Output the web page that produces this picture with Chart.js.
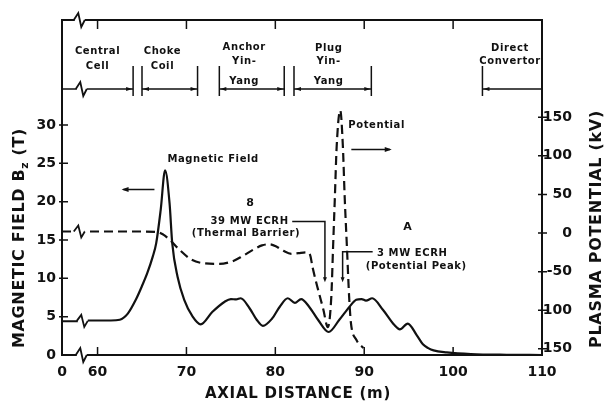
<!DOCTYPE html>
<html>
<head>
<meta charset="utf-8">
<script src="https://cdn.jsdelivr.net/npm/chart.js@4.4.1/dist/chart.umd.min.js"></script>
<style>html,body{margin:0;padding:0;background:#fff}</style>
</head>
<body>
<canvas id="chart" width="604" height="402"></canvas>
<script>
// Magnetic field along the axis (solid line, left axis)
const fieldZ = [56, 57.6, 58.5, 61.5, 62.5, 63.4, 64.3, 65.0, 65.6, 66.2, 66.6, 67.1, 67.6, 68.1, 68.4, 69.0, 69.75, 70.7, 71.6, 72.9,
    74.3, 75.0, 75.6, 76.1, 77.1, 77.9, 78.6, 79.6, 80.5, 81.4, 82.2, 82.9, 83.8, 84.8, 86.0, 87.2, 88.35, 89.1, 89.7, 90.2,
    90.9, 92.1, 93.4, 94.0, 94.9, 95.9, 96.6, 97.2, 97.8, 99.3, 102, 106, 110];
const fieldB = [4.4, 4.4, 4.5, 4.5, 4.6, 5.4, 7.2, 9.0, 10.7, 12.8, 14.6, 18.9, 24.1, 19.8, 14.6, 10.2, 7.2, 5.0, 4.0, 5.6,
    6.95, 7.3, 7.25, 7.4, 6.1, 4.6, 3.8, 4.7, 6.3, 7.4, 6.8, 7.3, 6.3, 4.6, 3.0, 4.6, 6.3, 7.2, 7.3, 7.1,
    7.4, 5.9, 3.9, 3.35, 4.1, 2.6, 1.4, 0.9, 0.6, 0.35, 0.13, 0.03, 0];

// Plasma potential (dashed line, right axis)
const potZ = [56, 60, 64, 66.7, 67.4, 68.1, 69.2, 70.5, 71.8, 73.7, 75.2, 76.3, 77.6, 78.5, 79.3, 80.2, 80.9, 81.8, 82.6,
    83.5, 83.9, 84.2, 84.8, 85.4, 85.9, 86.3, 86.5, 86.7, 86.9, 87.3, 87.6, 87.8, 88.05, 88.3, 88.5, 89.1, 89.9];
const potKV = [2, 2, 2, 1.5, -2, -8.5, -21.5, -34, -39, -40, -36.5, -30, -21, -16, -14.5, -18, -23, -27, -26,
    -25, -28, -45, -73, -99, -122, -82, -17, 47, 112, 159, 112, 47, -17, -82, -116, -138, -149];

const xTicks = [56, 60, 70, 80, 90, 100, 110];
const xTickLabels = ['0', '60', '70', '80', '90', '100', '110'];
const fieldTicks = [0, 5, 10, 15, 20, 25, 30];
const potTicks = [-150, -100, -50, 0, 50, 100, 150];

// machine sections along the axis (m)
const sections = [['Central', 'Cell'], ['Choke', 'Coil'], ['Anchor', 'Yin-', 'Yang'], ['Plug', 'Yin-', 'Yang'], ['Direct', 'Convertor']];
const sectionStart = [56, 65, 73.7, 82.1, 103.3];
const sectionEnd = [64, 71.25, 81, 90.8, 110];

const ink = '#111';
const FONT = "'DejaVu Sans', sans-serif";

function spacedText(ctx, parts, cx, cy, rot, width) {
    // parts: [text, size, dy]; letter spacing chosen so the whole string spans `width`
    let w0 = 0, n = 0;
    parts.forEach(p => {
        ctx.font = 'bold ' + p[1] + 'px ' + FONT;
        ctx.letterSpacing = '0px';
        w0 += ctx.measureText(p[0]).width;
        n += p[0].length;
    });
    const ls = (width - w0) / n;
    ctx.save();
    ctx.translate(cx, cy);
    ctx.rotate(rot);
    ctx.textAlign = 'left';
    ctx.textBaseline = 'middle';
    let x = -width / 2;
    parts.forEach(p => {
        ctx.font = 'bold ' + p[1] + 'px ' + FONT;
        ctx.letterSpacing = ls + 'px';
        ctx.fillText(p[0], x, p[2]);
        x += ctx.measureText(p[0]).width;
    });
    ctx.restore();
}

function arrowHead(ctx, x, y, dx, dy, len, half) {
    const px = -dy, py = dx;
    ctx.beginPath();
    ctx.moveTo(x, y);
    ctx.lineTo(x - dx * len + px * half, y - dy * len + py * half);
    ctx.lineTo(x - dx * len - px * half, y - dy * len - py * half);
    ctx.closePath();
    ctx.fill();
}

function zig(ctx, x, y, h) {
    ctx.fillStyle = '#fff';
    ctx.fillRect(x - 5, y - 2, 10, 4);
    ctx.fillStyle = ink;
    ctx.beginPath();
    ctx.moveTo(x - 6, y);
    ctx.lineTo(x - 1.5, y - h);
    ctx.lineTo(x + 1.5, y + h);
    ctx.lineTo(x + 5, y);
    ctx.stroke();
}

const decorations = {
    id: 'decorations',
    afterDraw(chart) {
        const ctx = chart.ctx, a = chart.chartArea;
        const xs = chart.scales.x, yb = chart.scales.y, yp = chart.scales.y2;
        const X = v => xs.getPixelForValue(v);
        const YB = v => yb.getPixelForValue(v);
        ctx.save();
        ctx.strokeStyle = ink;
        ctx.fillStyle = ink;
        ctx.lineCap = 'butt';

        // frame
        ctx.lineWidth = 2;
        ctx.strokeRect(a.left, a.top, a.right - a.left, a.bottom - a.top);

        // tick marks
        ctx.lineWidth = 1.5;
        ctx.beginPath();
        xTicks.slice(1, -1).forEach(v => {
            const x = X(v);
            ctx.moveTo(x, a.bottom); ctx.lineTo(x, a.bottom - 8);
            ctx.moveTo(x, a.top); ctx.lineTo(x, a.top + 9);
        });
        fieldTicks.slice(1).forEach(v => {
            const y = YB(v);
            ctx.moveTo(a.left - 3, y); ctx.lineTo(a.left + 6, y);
        });
        potTicks.forEach(v => {
            const y = yp.getPixelForValue(v);
            ctx.moveTo(a.right - 4, y); ctx.lineTo(a.right + 5, y);
        });
        ctx.stroke();

        // section brackets
        const by = a.top + 69;
        ctx.lineWidth = 1.5;
        sections.forEach((lines, i) => {
            const x1 = X(sectionStart[i]), x2 = X(sectionEnd[i]);
            ctx.beginPath();
            ctx.moveTo(x1, by); ctx.lineTo(x2, by);
            if (sectionStart[i] > xs.min) { ctx.moveTo(x1, by - 23); ctx.lineTo(x1, by + 7); }
            if (sectionEnd[i] < xs.max) { ctx.moveTo(x2, by - 23); ctx.lineTo(x2, by + 7); }
            ctx.stroke();
            if (sectionStart[i] > xs.min) arrowHead(ctx, x1 + 1, by, -1, 0, 6, 2);
            if (sectionEnd[i] < xs.max) arrowHead(ctx, x2 - 1, by, 1, 0, 6, 2);
        });
        const labelAt = [60.0, 67.3, 76.5, 86.0, 106.4];
        const rows = [[a.top + 31, a.top + 46], [a.top + 31, a.top + 46], [a.top + 27, a.top + 41, a.top + 61],
            [a.top + 28, a.top + 41, a.top + 61], [a.top + 28, a.top + 41]];
        ctx.font = 'bold 10px ' + FONT;
        ctx.letterSpacing = '0.6px';
        ctx.textAlign = 'center';
        ctx.textBaseline = 'middle';
        sections.forEach((lines, i) => {
            lines.forEach((t, j) => ctx.fillText(t, X(labelAt[i]), rows[i][j]));
        });

        // axis breaks
        ctx.lineWidth = 1.8;
        const xb = X(58);
        zig(ctx, xb, a.top, 7);
        zig(ctx, xb + 2, by, 7);
        zig(ctx, xb, yp.getPixelForValue(2), 6);
        zig(ctx, xb + 3, YB(4.45), 6);
        zig(ctx, xb + 2, a.bottom, 7);

        // annotations
        ctx.font = 'bold 10px ' + FONT;
        ctx.letterSpacing = '0.6px';
        ctx.fillText('Magnetic Field', X(73.0), YB(25.55));
        ctx.fillText('39 MW ECRH', X(77.1), YB(17.4));
        ctx.fillText('(Thermal Barrier)', X(76.7), YB(15.9));
        ctx.fillText('Potential', X(91.4), YB(30.0));
        ctx.fillText('3 MW ECRH', X(95.4), YB(13.2));
        ctx.fillText('(Potential Peak)', X(95.85), YB(11.5));
        ctx.font = 'bold 11px ' + FONT;
        ctx.fillText('8', X(77.2), YB(19.8));
        ctx.fillText('A', X(94.9), YB(16.7));

        ctx.lineWidth = 1.5;
        ctx.beginPath();
        ctx.moveTo(X(66.4), YB(21.6)); ctx.lineTo(X(62.9), YB(21.6));
        ctx.moveTo(X(88.55), YB(26.8)); ctx.lineTo(X(92.9), YB(26.8));
        ctx.moveTo(X(81.9), YB(17.4)); ctx.lineTo(X(85.58), YB(17.4)); ctx.lineTo(X(85.58), YB(9.9));
        ctx.moveTo(X(90.95), YB(13.47)); ctx.lineTo(X(87.57), YB(13.47)); ctx.lineTo(X(87.57), YB(9.9));
        ctx.stroke();
        arrowHead(ctx, X(62.7), YB(21.6), -1, 0, 7, 2.5);
        arrowHead(ctx, X(93.1), YB(26.8), 1, 0, 7, 2.5);
        arrowHead(ctx, X(85.58), YB(9.5), 0, 1, 5, 2);
        arrowHead(ctx, X(87.57), YB(9.5), 0, 1, 5, 2);

        // axis titles
        ctx.fillStyle = ink;
        spacedText(ctx, [['MAGNETIC FIELD B', 16, 0], ['z', 11, 5], [' (T)', 16, 0]], 20, 238, -Math.PI / 2, 220);
        spacedText(ctx, [['PLASMA POTENTIAL (kV)', 16, 0]], 597, 229, -Math.PI / 2, 238);
        spacedText(ctx, [['AXIAL DISTANCE (m)', 15, 0]], 298, 394, 0, 186);
        ctx.restore();
    }
};

const tickFont = { family: FONT, size: 14, weight: 'bold' };

new Chart(document.getElementById('chart'), {
    type: 'line',
    data: {
        datasets: [{
            label: 'Magnetic Field',
            data: fieldZ.map((z, i) => ({ x: z, y: fieldB[i] })),
            yAxisID: 'y',
            borderColor: ink,
            borderWidth: 2.2,
            pointRadius: 0,
            cubicInterpolationMode: 'monotone'
        }, {
            label: 'Potential',
            data: potZ.map((z, i) => ({ x: z, y: potKV[i] })),
            yAxisID: 'y2',
            borderColor: ink,
            borderWidth: 2.2,
            borderDash: [9, 5],
            pointRadius: 0,
            cubicInterpolationMode: 'monotone'
        }]
    },
    options: {
        responsive: false,
        animation: false,
        devicePixelRatio: 1,
        layout: { padding: { top: 20, right: 32, left: 0, bottom: 0 } },
        plugins: { legend: { display: false }, tooltip: { enabled: false } },
        scales: {
            x: {
                type: 'linear',
                min: 56,
                max: 110,
                afterBuildTicks: s => { s.ticks = xTicks.map(v => ({ value: v })); },
                afterFit: s => { s.height = 47; },
                grid: { display: false, drawTicks: false },
                border: { display: false },
                ticks: {
                    autoSkip: false,
                    maxRotation: 0,
                    padding: 9,
                    color: ink,
                    font: tickFont,
                    callback: (v, i) => xTickLabels[i]
                }
            },
            y: {
                position: 'left',
                min: 0,
                max: 43.7,
                afterBuildTicks: s => { s.ticks = fieldTicks.map(v => ({ value: v })); },
                afterFit: s => { s.width = 62; },
                grid: { display: false, drawTicks: false },
                border: { display: false },
                ticks: { padding: 6, color: ink, font: tickFont }
            },
            y2: {
                position: 'right',
                min: -158,
                max: 276,
                afterBuildTicks: s => { s.ticks = potTicks.map(v => ({ value: v })); },
                afterFit: s => { s.width = 30; },
                grid: { display: false, drawTicks: false },
                border: { display: false },
                ticks: { crossAlign: 'far', color: ink, font: tickFont }
            }
        }
    },
    plugins: [decorations]
});
</script>
</body>
</html>
